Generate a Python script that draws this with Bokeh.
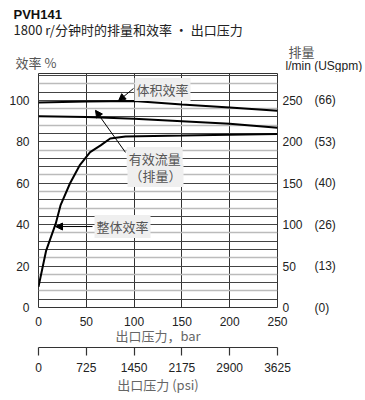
from bokeh.plotting import figure
from bokeh.layouts import column
from bokeh.models import (Range1d, LinearAxis, FixedTicker, Label, Arrow, NormalHead)
from bokeh.core.properties import value
from bokeh.embed import file_html
from bokeh.resources import INLINE

# ---- data ----
pressure_bar = [0, 50, 100, 150, 200, 250]
volumetric_eff = [99.0, 99.5, 99.7, 98.0, 96.6, 95.0]
effective_flow = [92.4, 92.0, 91.1, 90.0, 88.7, 86.8]
overall_bar = [0, 8, 18, 23, 33, 43, 54, 65, 75, 91, 150, 200, 250]
overall_eff = [10, 27.5, 40.5, 49.3, 60.0, 68.6, 75.0, 78.3, 81.6, 82.6, 83.0, 83.4, 83.8]

bar_ticks = [0, 50, 100, 150, 200, 250]
psi_ticks = [0, 725, 1450, 2175, 2900, 3625]
eff_ticks = [0, 20, 40, 60, 80, 100]
flow_ticks = [0, 50, 100, 150, 200, 250]
usgpm_labels = ["(0)", "(13)", "(26)", "(40)", "(53)", "(66)"]

grid_dark = [4, 12, 20, 28, 32, 40, 44, 52, 60, 68, 72, 80, 84, 92, 100, 104, 112]
grid_gray = [8, 16, 24, 36, 48, 56, 64, 76, 88, 96, 108]

title_main = "PVH141"
title_sub = "1800 r/分钟时的排量和效率 • 出口压力"
left_title = "效率 %"
right_title = "排量"
right_units = "l/min (USgpm)"

NUM_FONT = "Liberation Sans"
CJK_FONT = "Noto Sans CJK SC"
NUM_SIZE = "12px"

W = 365
HEAD_H = 72
MAIN_H = 328

# ---------------- header (titles) ----------------
hd = figure(width=W, height=HEAD_H, output_backend="svg", toolbar_location=None,
            x_range=Range1d(0, W), y_range=Range1d(HEAD_H, 0),
            x_axis_type=None, y_axis_type=None,
            min_border=0, min_border_left=0, min_border_right=0,
            min_border_top=0, min_border_bottom=0)
hd.grid.visible = False
hd.outline_line_color = None
hd.background_fill_color = "white"
hd.border_fill_color = "white"

hd.text(x=[13], y=[14], text=[title_main], text_font=value("Liberation Sans"),
        text_font_size="13px", text_font_style="bold", text_color="#111111",
        text_baseline="middle", text_align="left")
hd.text(x=[13], y=[29], text=[title_sub], text_font=value(CJK_FONT),
        text_font_size="13px", text_color="#222222",
        text_baseline="middle", text_align="left")
hd.text(x=[15], y=[62], text=[left_title], text_font=value(CJK_FONT),
        text_font_size="13px", text_color="#555555",
        text_baseline="middle", text_align="left")
hd.text(x=[288], y=[51], text=[right_title], text_font=value(CJK_FONT),
        text_font_size="13px", text_color="#555555",
        text_baseline="middle", text_align="left")
hd.text(x=[285], y=[65], text=[right_units], text_font=value(NUM_FONT),
        text_font_size=NUM_SIZE, text_color="#222222",
        text_baseline="middle", text_align="left")

# ---------------- main chart ----------------
p = figure(width=W, height=MAIN_H, output_backend="svg", toolbar_location=None,
           x_range=Range1d(0, 250), y_range=Range1d(0, 113),
           min_border_left=38, min_border_right=W - 277,
           min_border_top=1, min_border_bottom=MAIN_H - 235,
           background_fill_color="white", border_fill_color="white")
p.extra_y_ranges = {"flow": Range1d(0, 282.5)}
p.extra_x_ranges = {"psi": Range1d(0, 3625)}

try:
    hd.frame_align = False
    p.frame_align = False
except Exception:
    pass

p.outline_line_color = "#333333"
p.outline_line_width = 1

p.xgrid.ticker = FixedTicker(ticks=bar_ticks)
p.xgrid.grid_line_color = "#333333"
p.xgrid.grid_line_width = 1
p.ygrid.ticker = FixedTicker(ticks=grid_dark, minor_ticks=grid_gray)
p.ygrid.grid_line_color = "#444444"
p.ygrid.grid_line_width = 1
p.ygrid.minor_grid_line_color = "#bbbbbb"
p.ygrid.minor_grid_line_width = 1.5

xa = p.xaxis[0]
xa.ticker = FixedTicker(ticks=bar_ticks)
xa.axis_line_color = None
xa.major_tick_line_color = None
xa.minor_tick_line_color = None
xa.major_tick_in = 0
xa.major_tick_out = 0
xa.major_label_standoff = 9
xa.major_label_text_font = NUM_FONT
xa.major_label_text_font_size = NUM_SIZE
xa.major_label_text_color = "#222222"
xa.axis_label = "出口压力，bar"
xa.axis_label_text_font = CJK_FONT
xa.axis_label_text_font_size = "13px"
xa.axis_label_text_font_style = "normal"
xa.axis_label_text_color = "#666666"
xa.axis_label_text_line_height = 1.0
xa.axis_label_standoff = -3

psi_axis = LinearAxis(x_range_name="psi", ticker=FixedTicker(ticks=psi_ticks))
psi_axis.axis_line_color = "#333333"
psi_axis.axis_line_width = 1.2
psi_axis.major_tick_line_color = "#333333"
psi_axis.major_tick_line_width = 1.2
psi_axis.major_tick_in = 0
psi_axis.major_tick_out = 8
psi_axis.minor_tick_line_color = None
psi_axis.major_label_standoff = 7
psi_axis.major_label_text_font = NUM_FONT
psi_axis.major_label_text_font_size = NUM_SIZE
psi_axis.major_label_text_color = "#222222"
psi_axis.axis_label = "出口压力 (psi)"
psi_axis.axis_label_text_font = CJK_FONT
psi_axis.axis_label_text_font_size = "13px"
psi_axis.axis_label_text_font_style = "normal"
psi_axis.axis_label_text_color = "#666666"
psi_axis.axis_label_text_line_height = 1.0
psi_axis.axis_label_standoff = 0
p.add_layout(psi_axis, "below")

ya = p.yaxis[0]
ya.ticker = FixedTicker(ticks=eff_ticks)
ya.axis_line_color = None
ya.major_tick_line_color = None
ya.minor_tick_line_color = None
ya.major_tick_in = 0
ya.major_tick_out = 0
ya.major_label_standoff = 9
ya.major_label_text_font = NUM_FONT
ya.major_label_text_font_size = NUM_SIZE
ya.major_label_text_color = "#222222"

ra = LinearAxis(y_range_name="flow", ticker=FixedTicker(ticks=flow_ticks))
ra2 = LinearAxis(y_range_name="flow", ticker=FixedTicker(ticks=flow_ticks),
                 major_label_overrides={t: s for t, s in zip(flow_ticks, usgpm_labels)})
for ax, so in ((ra, 5), (ra2, 9)):
    ax.axis_line_color = None
    ax.major_tick_line_color = None
    ax.minor_tick_line_color = None
    ax.major_tick_in = 0
    ax.major_tick_out = 0
    ax.major_label_standoff = so
    ax.major_label_text_font = NUM_FONT
    ax.major_label_text_font_size = NUM_SIZE
    ax.major_label_text_color = "#222222"
    p.add_layout(ax, "right")

p.line(pressure_bar, volumetric_eff, line_color="black", line_width=2)
p.line(pressure_bar, effective_flow, line_color="black", line_width=2)
p.line(overall_bar, overall_eff, line_color="black", line_width=2)

for (x0, y0, x1, y1) in [(99.4, 105.8, 83.7, 99.8), (91, 74.9, 59.6, 95.2), (56.5, 39.1, 17.8, 39.1)]:
    p.add_layout(Arrow(x_start=x0, y_start=y0, x_end=x1, y_end=y1, line_width=1,
                       line_color="black",
                       end=NormalHead(size=7, fill_color="black", line_color="black")))

def box_label(x, y, text):
    p.add_layout(Label(x=x, y=y, text=text, text_align="center", text_baseline="middle",
                       text_font=CJK_FONT, text_font_size="13px", text_color="#555555",
                       background_fill_color="#efefef", background_fill_alpha=1.0,
                       padding=2))

box_label(129.7, 105.3, "体积效率")
box_label(122.4, 63.8, "（排量）")
box_label(121.5, 72.0, "有效流量")
box_label(87.9, 39.1, "整体效率")

layout = column(hd, p, spacing=0)
open("out.html", "w").write(file_html(layout, INLINE))
